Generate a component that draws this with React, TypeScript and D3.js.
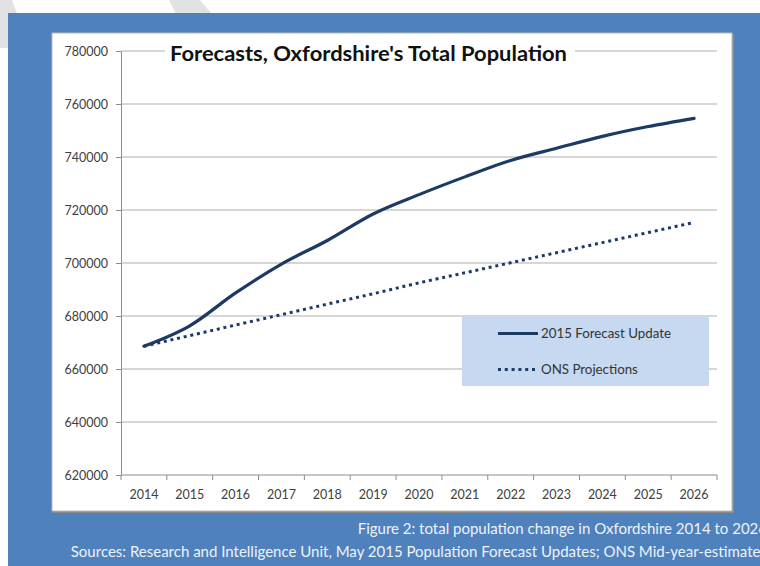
import React, { useEffect, useRef } from 'react';
import * as d3 from 'd3';

const years = ['2014', '2015', '2016', '2017', '2018', '2019', '2020', '2021', '2022', '2023', '2024', '2025', '2026'];
const forecastUpdate = [668600, 676300, 688700, 699600, 708500, 718500, 725800, 732500, 738700, 743300, 747800, 751500, 754600];
const onsProjections = [668600, 672600, 676600, 680500, 684500, 688400, 692500, 696300, 700100, 703900, 707700, 711500, 715300];
const yTicks = [620000, 640000, 660000, 680000, 700000, 720000, 740000, 760000, 780000];

const title = "Forecasts, Oxfordshire's Total Population";
const seriesNames = ['2015 Forecast Update', 'ONS Projections'];
const footer = [
  'Figure 2: total population change in Oxfordshire 2014 to 2026',
  'Sources: Research and Intelligence Unit, May 2015 Population Forecast Updates; ONS Mid-year-estimates',
];

const navy = '#1c3a64';
const font = 'Lato, "Open Sans", sans-serif';

export default function App() {
  const ref = useRef<SVGSVGElement>(null);

  useEffect(() => {
    const svg = d3.select(ref.current);
    svg.selectAll('*').remove();

    // page background with the faint grey stripes at the top left
    svg.append('rect').attr('width', 760).attr('height', 566).attr('fill', '#fff');
    svg.append('polygon').attr('points', '0,0 12,0 30,48 0,48').attr('fill', '#e2e2e2');
    svg.append('polygon').attr('points', '169,0 200,0 212,14 176,14').attr('fill', '#e2e2e2');

    // blue panel and white chart box
    svg.append('rect').attr('x', 8).attr('y', 13).attr('width', 760).attr('height', 560).attr('fill', '#4f81bd');
    svg.append('rect').attr('x', 53).attr('y', 34).attr('width', 681).attr('height', 479).attr('fill', '#8a8a8a');
    svg.append('rect').attr('x', 52).attr('y', 33).attr('width', 680).attr('height', 478)
      .attr('fill', '#fff').attr('stroke', '#b8b8b8').attr('stroke-width', 1);

    const x = d3.scaleBand().domain(years).range([121, 717]);
    const y = d3.scaleLinear().domain([620000, 780000]).range([475, 51]);
    const cx = (d: string) => (x(d) as number) + x.bandwidth() / 2;

    // gridlines
    svg.append('g').selectAll('line').data(yTicks.slice(1)).enter().append('line')
      .attr('x1', 121).attr('x2', 717)
      .attr('y1', d => y(d)).attr('y2', d => y(d))
      .attr('stroke', '#c9c9c9').attr('stroke-width', 1.3);

    // y axis
    const yAxis = svg.append('g').attr('transform', 'translate(121,0)')
      .call(d3.axisLeft(y).tickValues(yTicks).tickSize(5).tickSizeOuter(0).tickFormat(d3.format('d')));
    yAxis.select('.domain').attr('stroke', '#8c8c8c');
    yAxis.selectAll('.tick line').attr('stroke', '#8c8c8c');
    yAxis.selectAll('.tick text').attr('x', -13).attr('dy', '0.35em')
      .attr('fill', '#404040').style('font-family', font).style('font-size', '12.5px');

    // x axis, ticks between categories
    const xAxis = svg.append('g').attr('transform', 'translate(0,475)');
    xAxis.append('line').attr('x1', 121).attr('x2', 717).attr('stroke', '#8c8c8c');
    xAxis.selectAll('line.t').data(years.concat(['end'])).enter().append('line')
      .attr('class', 't')
      .attr('x1', (d, i) => 121 + i * x.step()).attr('x2', (d, i) => 121 + i * x.step())
      .attr('y1', 0).attr('y2', 5).attr('stroke', '#8c8c8c');
    xAxis.selectAll('text').data(years).enter().append('text')
      .attr('x', d => cx(d)).attr('y', 24)
      .attr('text-anchor', 'middle').attr('fill', '#404040')
      .style('font-family', font).style('font-size', '12.5px')
      .text(d => d);

    // title with white backing over the top gridline
    svg.append('rect').attr('x', 165).attr('y', 40).attr('width', 410).attr('height', 26).attr('fill', '#fff');
    svg.append('text').attr('x', 170).attr('y', 61)
      .attr('textLength', 397).attr('lengthAdjust', 'spacingAndGlyphs')
      .attr('fill', '#111').style('font-family', font).style('font-weight', 'bold').style('font-size', '21px')
      .text(title);

    // lines
    const line = d3.line<number>().x((d, i) => cx(years[i])).y(d => y(d)).curve(d3.curveMonotoneX);
    svg.append('path').attr('d', line(onsProjections))
      .attr('fill', 'none').attr('stroke', navy).attr('stroke-width', 3)
      .attr('stroke-dasharray', '3 3.8');
    svg.append('path').attr('d', line(forecastUpdate))
      .attr('fill', 'none').attr('stroke', navy).attr('stroke-width', 3.2)
      .attr('stroke-linecap', 'round');

    // legend
    const legend = svg.append('g');
    legend.append('rect').attr('x', 462).attr('y', 316).attr('width', 247).attr('height', 70).attr('fill', '#c6d9f1');
    legend.append('line').attr('x1', 498).attr('x2', 538).attr('y1', 333.5).attr('y2', 333.5)
      .attr('stroke', navy).attr('stroke-width', 3.2);
    legend.append('line').attr('x1', 498).attr('x2', 538).attr('y1', 369.5).attr('y2', 369.5)
      .attr('stroke', navy).attr('stroke-width', 3).attr('stroke-dasharray', '3 3.8');
    legend.selectAll('text').data(seriesNames).enter().append('text')
      .attr('x', 541).attr('y', (d, i) => 338 + i * 36)
      .attr('fill', '#333').style('font-family', font).style('font-size', '13.3px')
      .text(d => d);

    // footer, running off the right edge as in the original screenshot
    svg.selectAll('text.foot').data(footer).enter().append('text')
      .attr('class', 'foot')
      .attr('x', 767).attr('y', (d, i) => 534 + i * 23)
      .attr('text-anchor', 'end').attr('fill', '#eef3fa')
      .style('font-family', font).style('font-size', '15px')
      .text(d => d);
  }, []);

  return (
    <>
      <style>{'body{margin:0}'}</style>
      <svg ref={ref} width={760} height={566} style={{ display: 'block' }} />
    </>
  );
}
